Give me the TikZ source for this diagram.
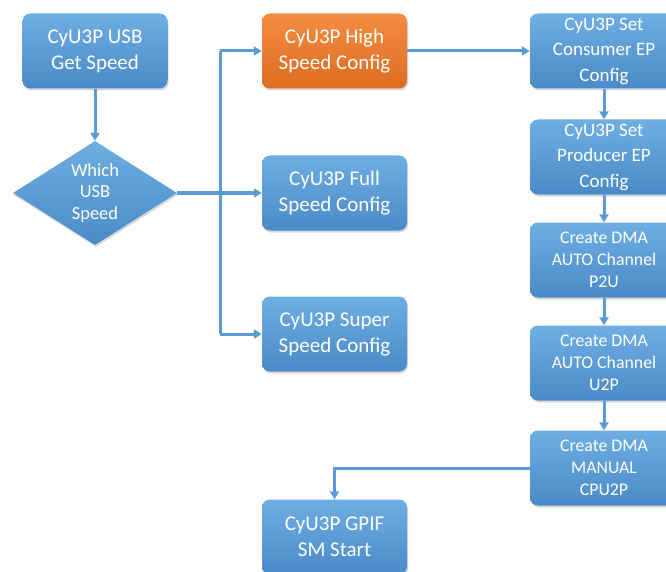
\documentclass[tikz,border=0pt]{standalone}
\usepackage{fontspec}
\setmainfont{Carlito}
\usetikzlibrary{shapes.geometric,arrows.meta,shadows}

\definecolor{boxblue}{HTML}{5B9BD5}
\definecolor{boxbluetop}{HTML}{6FAEE3}
\definecolor{boxbluebot}{HTML}{4A8AC7}
\definecolor{boxorange}{HTML}{ED7D31}
\definecolor{boxorangetop}{HTML}{F58D42}
\definecolor{boxorangebot}{HTML}{DC6C20}

\tikzset{
  base/.style={text=white, align=center, inner sep=0pt,
    drop shadow={opacity=0.3, shadow xshift=1pt, shadow yshift=-2pt}},
  bluebox/.style={base, rectangle, rounded corners=8pt,
    top color=boxbluetop, bottom color=boxbluebot,
    minimum width=145pt, minimum height=75pt},
  orangebox/.style={bluebox, top color=boxorangetop, bottom color=boxorangebot},
  bigtext/.style={font=\fontsize{21}{26}\selectfont},
  midtext/.style={font=\fontsize{19}{25.5}\selectfont},
  smalltext/.style={font=\fontsize{17.8}{22}\selectfont},
  decision/.style={base, diamond, top color=boxbluetop, bottom color=boxbluebot,
    minimum width=164pt, minimum height=104pt, shape aspect=1.58,
    font=\fontsize{18.5}{21.5}\selectfont},
  link/.style={draw=boxblue, line width=3pt},
  arrow/.style={link, -{Triangle[length=8pt,width=9pt]}},
}

\begin{document}
\begin{tikzpicture}[x=1pt, y=-1pt]
  \useasboundingbox[fill=white] (0,0) rectangle (666,572);

  % left column
  \node[bluebox, bigtext] (getspeed) at (95,51) {CyU3P USB\\Get Speed};
  \node[decision] (which) at (95,193) {Which\\USB\\Speed};

  % speed configuration branch
  \node[orangebox, bigtext] (high) at (334.5,51) {CyU3P High\\Speed Config};
  \node[bluebox, bigtext] (full) at (334.5,193) {CyU3P Full\\Speed Config};
  \node[bluebox, bigtext] (super) at (334.5,334) {CyU3P Super\\Speed Config};

  % endpoint and DMA setup column
  \node[bluebox, midtext, minimum width=148pt] (cons) at (604,51) {CyU3P Set\\Consumer EP\\Config};
  \node[bluebox, midtext, minimum width=148pt] (prod) at (604,157) {CyU3P Set\\Producer EP\\Config};
  \node[bluebox, smalltext, minimum width=148pt] (p2u) at (604,260) {Create DMA\\AUTO Channel\\P2U};
  \node[bluebox, smalltext, minimum width=148pt] (u2p) at (604,363) {Create DMA\\AUTO Channel\\U2P};
  \node[bluebox, smalltext, minimum width=148pt] (manual) at (604,468) {Create DMA\\MANUAL\\CPU2P};

  % state machine start
  \node[bluebox, bigtext] (gpif) at (334.5,537) {CyU3P GPIF\\SM Start};

  % bus that fans out from the decision
  \coordinate (bus) at (220,0);

  \draw[arrow] (getspeed) -- (which);
  \draw[link] (which.east) -- (which.east -| bus);
  \draw[link] (bus |- high) -- (bus |- super);
  \draw[arrow] (bus |- high) -- (high);
  \draw[arrow] (bus |- full) -- (full);
  \draw[arrow] (bus |- super) -- (super);

  \draw[arrow] (high) -- (cons);
  \draw[arrow] (cons) -- (prod);
  \draw[arrow] (prod) -- (p2u);
  \draw[arrow] (p2u) -- (u2p);
  \draw[arrow] (u2p) -- (manual);
  \draw[arrow] (manual.west) -| (gpif.north);
\end{tikzpicture}
\end{document}
